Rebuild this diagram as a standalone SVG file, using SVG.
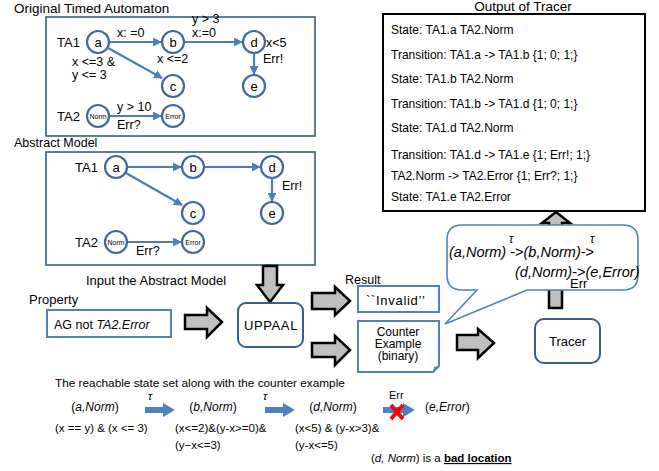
<svg xmlns="http://www.w3.org/2000/svg" width="659" height="471" viewBox="0 0 659 471">
<defs>
<marker id="ah" viewBox="0 0 10 10" refX="9" refY="5" markerWidth="4" markerHeight="4" orient="auto" markerUnits="strokeWidth">
<path d="M0,0 L10,5 L0,10 Z" fill="#4a7ebb"/>
</marker>
<style>
text{font-family:"Liberation Sans",Arial,sans-serif;fill:#000}
.t{font-size:12px}
.s{font-size:12.5px}
.n{font-size:13px;text-anchor:middle}
.tiny{font-size:7px;text-anchor:middle}
.o{font-size:12px}
.b{font-size:11.5px}
.it{font-style:italic}
.circ{fill:#fff;stroke:#41689c;stroke-width:2.2}
.edge{stroke:#4a7ebb;stroke-width:2.2;fill:none;marker-end:url(#ah)}
.frame{fill:#fff;stroke:#385d8a;stroke-width:1.6}
.blk{fill:#bfbfbf;stroke:#000;stroke-width:2.5;stroke-linejoin:miter}
.rbox{fill:#fff;stroke:#385d8a;stroke-width:2}
.lbox{fill:#fff;stroke:#4f81bd;stroke-width:2}
.big{fill:#4f81bd}
</style>
</defs>

<!-- Original timed automaton -->
<text x="14" y="13" style="font-size:13.5px">Original  Timed Automaton</text>
<g id="orig-frame"><rect class="frame" x="46" y="17" width="269" height="119"/></g>
<g id="orig-labels">
<text x="57" y="47" style="font-size:13px">TA1</text>
<text x="57" y="121" style="font-size:13px">TA2</text>
<text class="s" x="117" y="37">x: =0</text>
<text class="s" x="192" y="23">y &gt; 3</text>
<text class="s" x="192" y="37">x:=0</text>
<text class="s" x="157" y="63">x &lt;=2</text>
<text class="s" x="72" y="66">x &lt;=3 &amp;</text>
<text class="s" x="72" y="79">y &lt;= 3</text>
<text class="s" x="266" y="47">x&lt;5</text>
<text class="s" x="263" y="63">Err!</text>
<text class="s" x="117" y="111">y &gt; 10</text>
<text class="s" x="117" y="129">Err?</text>
</g>
<g id="orig-connectors">
<line class="edge" x1="109" y1="42" x2="161" y2="42"/>
<line class="edge" x1="108" y1="48" x2="162" y2="78"/>
<line class="edge" x1="184" y1="42" x2="242" y2="42"/>
<line class="edge" x1="254" y1="53" x2="254" y2="74"/>
<line class="edge" x1="109" y1="116" x2="161" y2="116"/>
</g>
<g id="o-a"><circle class="circ" cx="98" cy="42" r="11"/><text class="n" x="98" y="47">a</text></g>
<g id="o-b"><circle class="circ" cx="173" cy="42" r="11"/><text class="n" x="173" y="47">b</text></g>
<g id="o-c"><circle class="circ" cx="173" cy="86" r="11"/><text class="n" x="173" y="91">c</text></g>
<g id="o-d"><circle class="circ" cx="254" cy="42" r="11"/><text class="n" x="254" y="47">d</text></g>
<g id="o-e"><circle class="circ" cx="254" cy="86" r="11"/><text class="n" x="254" y="91">e</text></g>
<g id="o-norm"><circle class="circ" cx="98" cy="116" r="11"/><text class="tiny" x="98" y="119">Norm</text></g>
<g id="o-error"><circle class="circ" cx="173" cy="116" r="11"/><text class="tiny" x="173" y="119">Error</text></g>

<!-- Abstract model -->
<text class="s" x="14" y="147">Abstract Model</text>
<g id="abs-frame"><rect class="frame" x="46" y="152" width="269" height="113"/></g>
<g id="abs-labels">
<text x="75" y="172" style="font-size:13px">TA1</text>
<text x="75" y="247" style="font-size:13px">TA2</text>
<text class="s" x="282" y="190">Err!</text>
<text class="s" x="136" y="255">Err?</text>
</g>
<g id="abs-connectors">
<line class="edge" x1="127" y1="167" x2="181" y2="167"/>
<line class="edge" x1="126" y1="173" x2="182" y2="205"/>
<line class="edge" x1="204" y1="167" x2="260" y2="167"/>
<line class="edge" x1="272" y1="178" x2="272" y2="201"/>
<line class="edge" x1="127" y1="242" x2="181" y2="242"/>
</g>
<g id="a-a"><circle class="circ" cx="116" cy="167" r="11"/><text class="n" x="116" y="172">a</text></g>
<g id="a-b"><circle class="circ" cx="193" cy="167" r="11"/><text class="n" x="193" y="172">b</text></g>
<g id="a-c"><circle class="circ" cx="193" cy="213" r="11"/><text class="n" x="193" y="218">c</text></g>
<g id="a-d"><circle class="circ" cx="272" cy="167" r="11"/><text class="n" x="272" y="172">d</text></g>
<g id="a-e"><circle class="circ" cx="272" cy="213" r="11"/><text class="n" x="272" y="218">e</text></g>
<g id="a-norm"><circle class="circ" cx="116" cy="242" r="11"/><text class="tiny" x="116" y="245">Norm</text></g>
<g id="a-error"><circle class="circ" cx="193" cy="242" r="11"/><text class="tiny" x="193" y="245">Error</text></g>

<!-- Output of Tracer -->
<text x="523" y="11" text-anchor="middle" style="font-size:13.5px">Output of Tracer</text>
<g id="output">
<rect x="383" y="14" width="262" height="197" fill="#fff" stroke="#000" stroke-width="2"/>
<text class="o" x="391" y="34">State: TA1.a TA2.Norm</text>
<text class="o" x="391" y="59">Transition: TA1.a -&gt; TA1.b {1; 0; 1;}</text>
<text class="o" x="391" y="83">State: TA1.b TA2.Norm</text>
<text class="o" x="391" y="108">Transition: TA1.b -&gt; TA1.d {1; 0; 1;}</text>
<text class="o" x="391" y="132">State: TA1.d TA2.Norm</text>
<text class="o" x="391" y="159">Transition: TA1.d -&gt; TA1.e {1; Err!; 1;}</text>
<text class="o" x="391" y="180">TA2.Norm -&gt; TA2.Error {1; Err?; 1;}</text>
<text class="o" x="391" y="201">State: TA1.e TA2.Error</text>
</g>

<!-- block arrows -->
<g id="connectors">
<polygon class="blk" points="263,266 277,266 277,285 283,285 270,302 257,285 263,285"/>
<polygon class="blk" points="185,315 207,315 207,308 222,322 207,337 207,329 185,329"/>
<polygon class="blk" points="312,293 335,293 335,287 350,301 335,315 335,309 312,309"/>
<polygon class="blk" points="312,343 335,343 335,336 350,350 335,365 335,357 312,357"/>
<polygon class="blk" points="457,335 478,335 478,329 494,343 478,358 478,350 457,350"/>
<polygon class="blk" points="549,308 549,223 542,223 556,212 570,223 562,223 562,308"/>
<polygon class="big" points="145,407 163,407 163,403 175,410 163,417 163,413 145,413"/>
<polygon class="big" points="265,407 283,407 283,403 295,410 283,417 283,413 265,413"/>
<polygon class="big" points="383,407 403,407 403,403 415,410 403,417 403,413 383,413"/>
</g>

<text x="86" y="285" style="font-size:13px">Input the Abstract Model</text>
<text x="29" y="304" style="font-size:13px">Property</text>
<g id="property">
<rect class="lbox" x="47" y="310" width="124" height="27"/>
<text x="54" y="329" style="font-size:12.5px">AG not <tspan class="it">TA2.Error</tspan></text>
</g>
<g id="uppaal">
<rect class="rbox" x="238" y="303" width="65" height="44" rx="8"/>
<text x="271" y="330" text-anchor="middle" style="font-size:13px;letter-spacing:0.6px">UPPAAL</text>
</g>
<text x="345" y="284" style="font-size:12.5px">Result</text>
<g id="invalid">
<rect class="lbox" x="358" y="286" width="81" height="26"/>
<text x="366" y="305" style="font-size:13px;letter-spacing:0.7px">``Invalid’’</text>
</g>
<g id="counter">
<path d="M358,321 H439 V366 L433,372 H358 Z" fill="#fff" stroke="#4f81bd" stroke-width="2"/>
<path d="M433,372 L434,367 L439,366 Z" fill="#4f81bd"/>
<text x="398" y="336" text-anchor="middle" style="font-size:12px">Counter</text>
<text x="398" y="348" text-anchor="middle" style="font-size:12px">Example</text>
<text x="398" y="360" text-anchor="middle" style="font-size:12px">(binary)</text>
</g>
<g id="tracer">
<rect class="rbox" x="535" y="319" width="65" height="44" rx="9"/>
<text x="567.5" y="346" text-anchor="middle" style="font-size:13px">Tracer</text>
</g>
<g id="callout">
<path d="M462,225 H623 Q638,225 638,240 V275 Q638,290 623,290 H527 L445,324 L477,290 H462 Q447,290 447,275 V240 Q447,225 462,225 Z" fill="#fff" stroke="#4f81bd" stroke-width="1.6"/>
<text x="449" y="257" style="font-size:14.5px"><tspan class="it">(a,Norm)</tspan> -&gt;<tspan class="it">(b,Norm)</tspan>-&gt;</text>
<text class="it" x="509" y="243" style="font-size:12px">τ</text>
<text class="it" x="590" y="243" style="font-size:12px">τ</text>
<text x="515" y="277" style="font-size:14.5px"><tspan class="it">(d,Norm)</tspan>-&gt;<tspan class="it">(e,Error)</tspan></text>
<text x="570" y="288" style="font-size:13px">Err</text>
</g>

<!-- bottom reachable states -->
<text x="55" y="387" style="font-size:11.8px">The reachable state set along with the counter example</text>
<g id="s-a">
<text class="t" x="95" y="411" text-anchor="middle">(<tspan class="it">a,Norm</tspan>)</text>
<text class="b" x="55" y="432">(x == y) &amp; (x &lt;= 3)</text>
</g>
<text class="it" x="148" y="400" style="font-size:11px">τ</text>
<g id="s-b">
<text class="t" x="213" y="411" text-anchor="middle">(<tspan class="it">b,Norm</tspan>)</text>
<text class="b" x="175" y="432">(x&lt;=2)&amp;(y-x&gt;=0)&amp;</text>
<text class="b" x="175" y="449">(y−x&lt;=3)</text>
</g>
<text class="it" x="263" y="400" style="font-size:11px">τ</text>
<g id="s-d">
<text class="t" x="333" y="411" text-anchor="middle">(<tspan class="it">d,Norm</tspan>)</text>
<text class="b" x="295" y="432">(x&lt;5) &amp; (y-x&gt;3)&amp;</text>
<text class="b" x="295" y="449">(y-x&lt;=5)</text>
</g>
<text x="389" y="399" style="font-size:11px">Err</text>
<g id="cross">
<line x1="391" y1="405" x2="403" y2="419" stroke="#ff0000" stroke-width="4"/>
<line x1="403" y1="405" x2="391" y2="419" stroke="#ff0000" stroke-width="4"/>
</g>
<g id="s-e">
<text class="t" x="425" y="411">(<tspan class="it">e,Error</tspan>)</text>
</g>
<text class="b" x="371" y="462">(<tspan class="it">d,  Norm</tspan>) is a <tspan font-weight="bold" text-decoration="underline">bad location</tspan></text>
</svg>
